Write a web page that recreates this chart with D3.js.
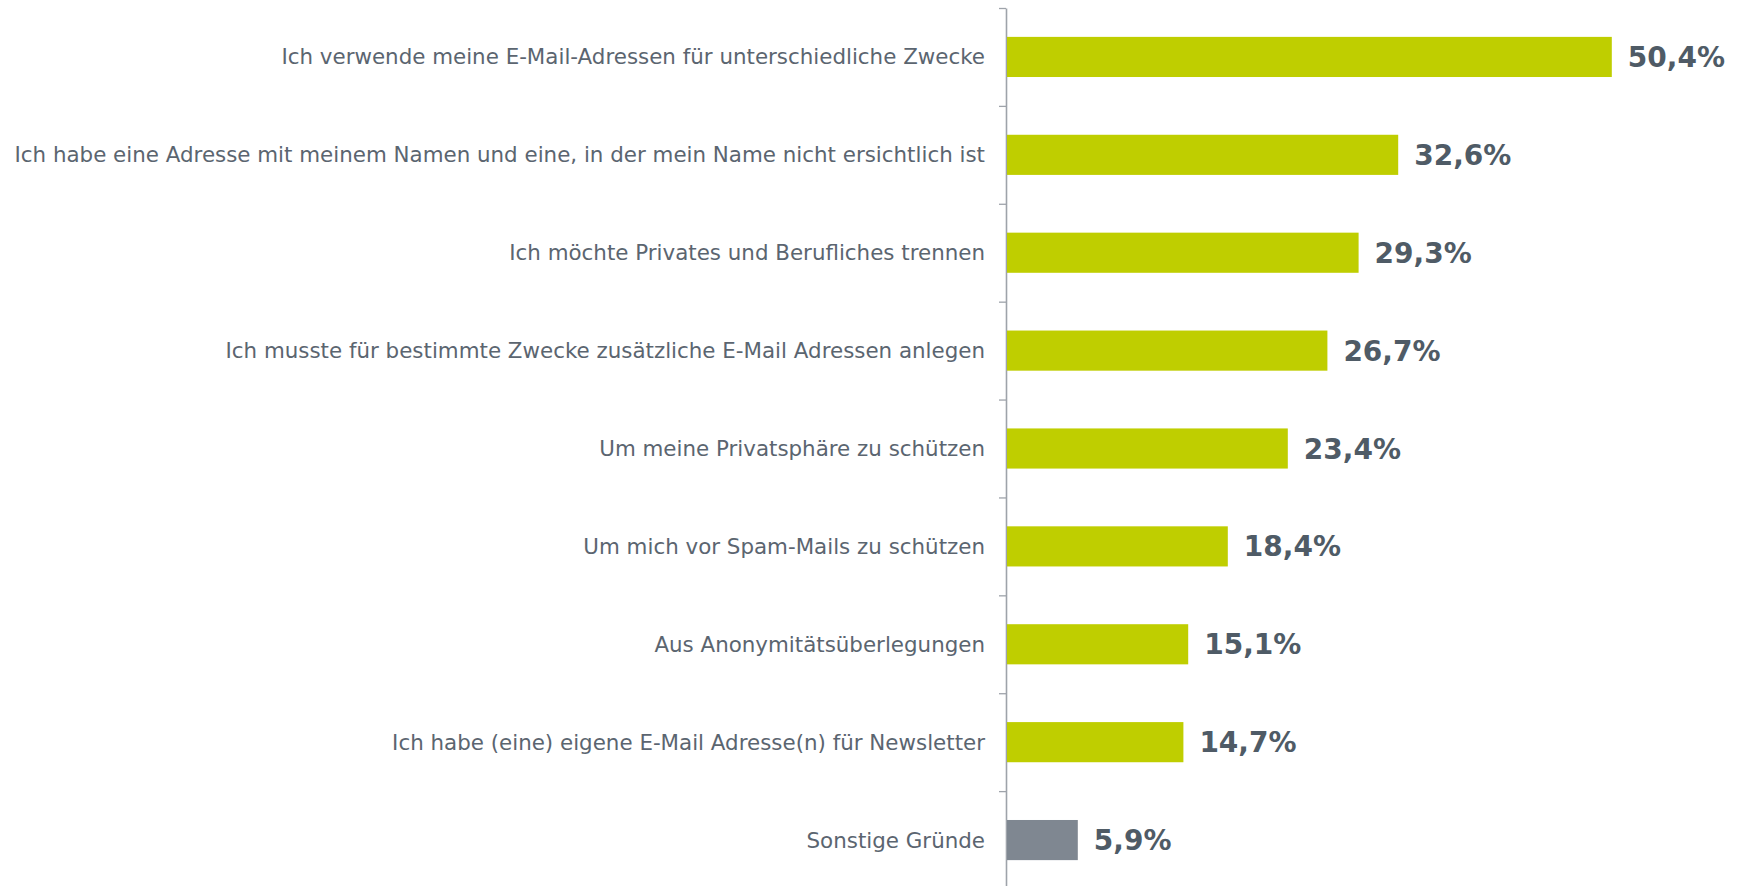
<!DOCTYPE html>
<html>
<head>
<meta charset="utf-8">
<script src="https://cdn.jsdelivr.net/npm/d3@7"></script>
<style>
  body { margin: 0; background: #fff; }
  svg { display: block; }
</style>
</head>
<body>
<svg width="1744" height="886"></svg>
<script>
// data
var reasons = [
    "Ich verwende meine E-Mail-Adressen für unterschiedliche Zwecke",
    "Ich habe eine Adresse mit meinem Namen und eine, in der mein Name nicht ersichtlich ist",
    "Ich möchte Privates und Berufliches trennen",
    "Ich musste für bestimmte Zwecke zusätzliche E-Mail Adressen anlegen",
    "Um meine Privatsphäre zu schützen",
    "Um mich vor Spam-Mails zu schützen",
    "Aus Anonymitätsüberlegungen",
    "Ich habe (eine) eigene E-Mail Adresse(n) für Newsletter",
    "Sonstige Gründe"
];
var shares = [50.4, 32.6, 29.3, 26.7, 23.4, 18.4, 15.1, 14.7, 5.9];
var valueLabels = ["50,4%", "32,6%", "29,3%", "26,7%", "23,4%", "18,4%", "15,1%", "14,7%", "5,9%"];

var data = reasons.map(function(r, i) {
    return { reason: r, share: shares[i], label: valueLabels[i], other: r === "Sonstige Gründe" };
});

var svg = d3.select('svg');

var plotTop = 8, plotBottom = 889, axisX = 1006;

// scales
var xScale = d3.scaleLinear().domain([0, 60]).range([axisX + 1, axisX + 1 + 720]);
var yScale = d3.scaleBand()
    .domain(reasons)
    .range([plotTop, plotBottom])
    .paddingInner(0.59)
    .paddingOuter(0.295);
// tick positions at the band borders
var tickScale = d3.scaleLinear().domain([0, reasons.length]).range([plotTop, plotBottom]);

var yAxis = d3.axisLeft(tickScale)
    .tickValues(d3.range(0, reasons.length + 1))
    .tickFormat('')
    .tickSize(7)
    .tickSizeOuter(0);

var gY = svg.append('g')
    .attr('transform', 'translate(' + axisX + ',0)')
    .call(yAxis);
gY.select('.domain').attr('stroke', '#9ea3aa').attr('stroke-width', 1.6);
gY.selectAll('.tick line').attr('stroke', '#9ea3aa').attr('stroke-width', 1.3);

// bars
svg.selectAll('.bar')
    .data(data)
    .enter()
    .append('rect')
    .attr('class', 'bar')
    .attr('x', xScale(0))
    .attr('y', function(d) { return yScale(d.reason); })
    .attr('width', function(d) { return xScale(d.share) - xScale(0); })
    .attr('height', yScale.bandwidth())
    .style('fill', function(d) { return d.other ? '#7f8791' : '#bfce00'; });

// category labels
svg.selectAll('.label')
    .data(data)
    .enter()
    .append('text')
    .attr('class', 'label')
    .attr('x', axisX - 21)
    .attr('y', function(d) { return yScale(d.reason) + yScale.bandwidth() / 2; })
    .attr('dy', '0.35em')
    .attr('text-anchor', 'end')
    .style('font-family', 'Verdana, "DejaVu Sans", sans-serif')
    .style('font-size', '21.4px')
    .style('fill', '#5b6570')
    .text(function(d) { return d.reason; });

// value labels
svg.selectAll('.value')
    .data(data)
    .enter()
    .append('text')
    .attr('class', 'value')
    .attr('x', function(d) { return xScale(d.share) + 16; })
    .attr('y', function(d) { return yScale(d.reason) + yScale.bandwidth() / 2 + 10; })
    .style('font-family', 'Verdana, "DejaVu Sans", sans-serif')
    .style('font-size', '28px')
    .style('font-weight', 'bold')
    .style('fill', '#4f5b66')
    .text(function(d) { return d.label; });
</script>
</body>
</html>
